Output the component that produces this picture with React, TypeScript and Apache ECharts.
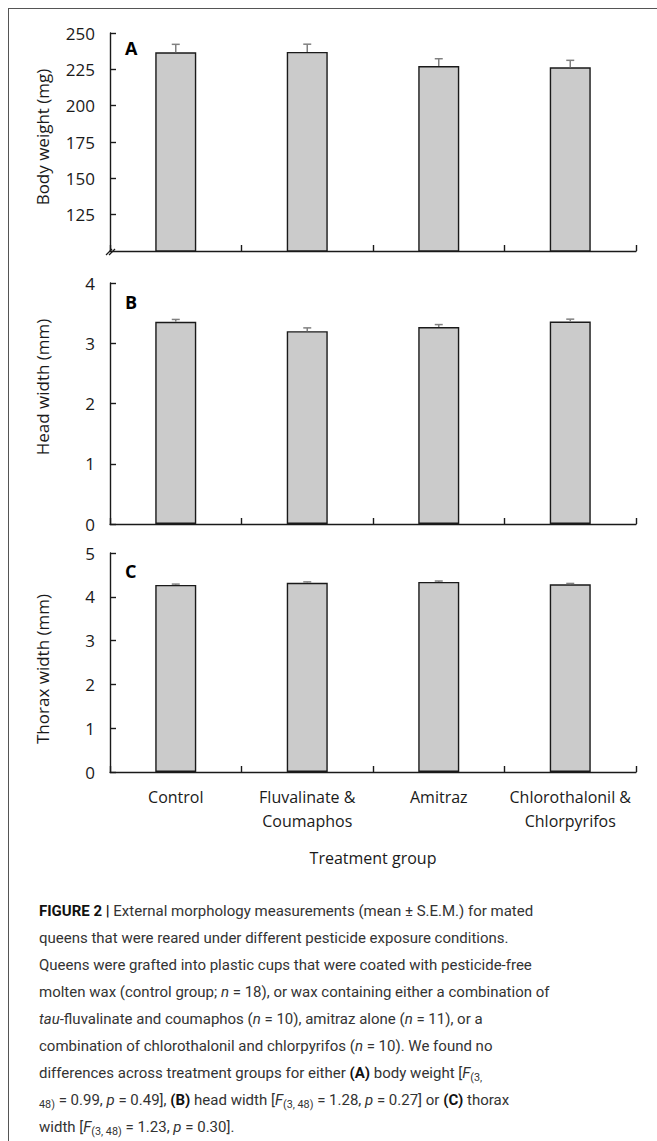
import React, { useEffect, useRef } from "react";
import * as echarts from "echarts";

const categories = ["Control", "Fluvalinate &\nCoumaphos", "Amitraz", "Chlorothalonil &\nChlorpyrifos"];
const bodyWeight = [236.7, 237.0, 227.3, 226.4];
const bodyWeightSem = [5.5, 5.3, 5.0, 4.8];
const headWidth = [3.355, 3.2, 3.27, 3.36];
const headWidthSem = [0.04, 0.055, 0.04, 0.04];
const thoraxWidth = [4.27, 4.32, 4.34, 4.285];
const thoraxWidthSem = [0.02, 0.02, 0.02, 0.02];
const yTitles = ["Body weight (mg)", "Head width (mm)", "Thorax width (mm)"];
const panelLetters = ["A", "B", "C"];

const FONT = "'Open Sans', 'DejaVu Sans', sans-serif";
const INK = "#1a1a1a";

const grids = [
  { left: 110, top: 33, width: 526, height: 218 },
  { left: 110, top: 283, width: 526, height: 241 },
  { left: 110, top: 553, width: 526, height: 219 },
];
const yRanges = [
  { min: 100, max: 250, interval: 25 },
  { min: 0, max: 4, interval: 1 },
  { min: 0, max: 5, interval: 1 },
];
const titleCenters = [137, 387, 669];
const letterCenters = [48, 302, 571];

function errorRender(params: any, api: any) {
  const idx = api.value(0);
  const v = api.value(1);
  const s = api.value(2);
  const p0 = api.coord([idx, v]);
  const p1 = api.coord([idx, v + s]);
  const st = { stroke: "#808080", lineWidth: 1.5 };
  return {
    type: "group",
    children: [
      { type: "line", shape: { x1: p0[0], y1: p0[1], x2: p1[0], y2: p1[1] }, style: st },
      { type: "line", shape: { x1: p1[0] - 4, y1: p1[1], x2: p1[0] + 4, y2: p1[1] }, style: st },
    ],
  };
}

export default function App() {
  const ref = useRef<HTMLDivElement>(null);
  useEffect(() => {
    if (!ref.current) return;
    const chart = echarts.init(ref.current, null, { renderer: "svg" });
    const values = [bodyWeight, headWidth, thoraxWidth];
    const sems = [bodyWeightSem, headWidthSem, thoraxWidthSem];
    const series: any[] = [];
    values.forEach((vals, i) => {
      series.push({
        type: "bar",
        xAxisIndex: i,
        yAxisIndex: i,
        data: vals,
        barWidth: 41,
        itemStyle: { color: "#cbcbcb", borderColor: INK, borderWidth: 1.4 },
        z: 2,
      });
      series.push({
        type: "custom",
        xAxisIndex: i,
        yAxisIndex: i,
        renderItem: errorRender,
        data: vals.map((v, k) => [k, v, sems[i][k]]),
        encode: { x: 0, y: 1 },
        z: 3,
      });
    });
    const graphic: any[] = [];
    yTitles.forEach((t, i) => {
      graphic.push({
        type: "text",
        x: 42,
        y: titleCenters[i],
        rotation: Math.PI / 2,
        style: {
          text: t,
          font: `17px ${FONT}`,
          fill: INK,
          textAlign: "center",
          textVerticalAlign: "middle",
        },
      });
      graphic.push({
        type: "text",
        x: 125,
        y: letterCenters[i],
        style: {
          text: panelLetters[i],
          font: `bold 18px ${FONT}`,
          fill: "#000",
          textAlign: "left",
          textVerticalAlign: "middle",
        },
      });
    });
    graphic.push({
      type: "line",
      shape: { x1: 106, y1: 255, x2: 112, y2: 249 },
      style: { stroke: INK, lineWidth: 1.2 },
    });
    graphic.push({
      type: "line",
      shape: { x1: 109, y1: 255, x2: 115, y2: 249 },
      style: { stroke: INK, lineWidth: 1.2 },
    });

    chart.setOption({
      animation: false,
      backgroundColor: "transparent",
      grid: grids.map((g) => ({ ...g, containLabel: false })),
      xAxis: grids.map((g, i) => ({
        type: "category",
        gridIndex: i,
        data: categories,
        boundaryGap: true,
        axisLine: { show: true, lineStyle: { color: INK, width: 1.4 } },
        axisTick: { show: true, inside: true, length: 6, interval: 0, lineStyle: { color: INK, width: 1.4 } },
        axisLabel: {
          show: i === 2,
          interval: 0,
          margin: 13,
          color: INK,
          fontFamily: FONT,
          fontSize: 16,
          lineHeight: 24,
        },
        name: i === 2 ? "Treatment group" : "",
        nameLocation: "middle",
        nameGap: 78,
        nameTextStyle: { color: INK, fontFamily: FONT, fontSize: 16 },
      })),
      yAxis: grids.map((g, i) => ({
        type: "value",
        gridIndex: i,
        min: yRanges[i].min,
        max: yRanges[i].max,
        interval: yRanges[i].interval,
        splitLine: { show: false },
        axisLine: { show: true, lineStyle: { color: INK, width: 1.4 } },
        axisTick: { show: true, inside: true, length: 6, lineStyle: { color: INK, width: 1.4 } },
        axisLabel: {
          color: INK,
          fontFamily: FONT,
          fontSize: 17,
          margin: 15,
          showMinLabel: i !== 0,
        },
      })),
      series,
      graphic,
    });
    return () => chart.dispose();
  }, []);

  const it = (s: string) => <i>{s}</i>;
  const sub = (s: string) => <sub style={{ fontSize: "0.72em", verticalAlign: "-0.3em", lineHeight: 0 }}>{s}</sub>;
  const lines: React.ReactNode[] = [
    <>
      <b style={{ fontWeight: 700, color: "#111" }}>FIGURE 2 |</b> External morphology measurements (mean ± S.E.M.) for mated
    </>,
    <>queens that were reared under different pesticide exposure conditions.</>,
    <>Queens were grafted into plastic cups that were coated with pesticide-free</>,
    <>
      molten wax (control group; {it("n")} = 18), or wax containing either a combination of
    </>,
    <>
      {it("tau")}-fluvalinate and coumaphos ({it("n")} = 10), amitraz alone ({it("n")} = 11), or a
    </>,
    <>
      combination of chlorothalonil and chlorpyrifos ({it("n")} = 10). We found no
    </>,
    <>
      differences across treatment groups for either <b style={{ color: "#111" }}>(A)</b> body weight [{it("F")}
      {sub("(3,")}
    </>,
    <>
      {sub("48)")} = 0.99, {it("p")} = 0.49], <b style={{ color: "#111" }}>(B)</b> head width [{it("F")}
      {sub("(3, 48)")} = 1.28, {it("p")} = 0.27] or <b style={{ color: "#111" }}>(C)</b> thorax
    </>,
    <>
      width [{it("F")}
      {sub("(3, 48)")} = 1.23, {it("p")} = 0.30].
    </>,
  ];

  return (
    <div style={{ position: "absolute", left: 0, top: 0, width: 657, height: 1141, background: "#fff", overflow: "hidden" }}>
      <div
        style={{
          position: "absolute",
          left: 8,
          top: 8,
          width: 700,
          height: 1200,
          borderLeft: "1.5px solid #555",
          borderTop: "1.5px solid #555",
          boxSizing: "border-box",
        }}
      />
      <div ref={ref} style={{ position: "absolute", left: 0, top: 0, width: 657, height: 880 }} />
      <div
        style={{
          position: "absolute",
          left: 39,
          top: 898,
          fontFamily: "Roboto, 'Liberation Sans', sans-serif",
          fontSize: 15,
          color: "#333",
          letterSpacing: "0px",
        }}
      >
        {lines.map((l, i) => (
          <div key={i} style={{ height: 27, lineHeight: "27px", whiteSpace: "nowrap" }}>
            {l}
          </div>
        ))}
      </div>
    </div>
  );
}
